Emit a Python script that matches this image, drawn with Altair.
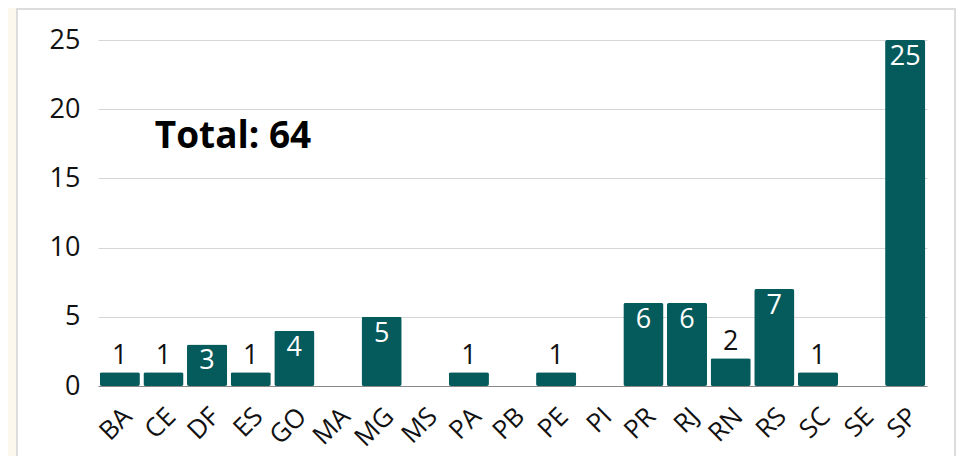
import altair as alt
import pandas as pd

states = ["BA", "CE", "DF", "ES", "GO", "MA", "MG", "MS", "PA", "PB", "PE", "PI",
          "PR", "RJ", "RN", "RS", "SC", "SE", "SP"]
counts = [1, 1, 3, 1, 4, 0, 5, 0, 1, 0, 1, 0, 6, 6, 2, 7, 1, 0, 25]
y_ticks = [0, 5, 10, 15, 20, 25]

df = pd.DataFrame({"state": states, "count": counts})
df["label"] = [str(c) if c > 0 else "" for c in counts]
total = sum(counts)

W, H = 829, 346
BAR = "#055a5b"
FONT = "Open Sans"

xenc = alt.X("state:N", sort=states, title=None,
             scale=alt.Scale(paddingInner=0.08, paddingOuter=0.04),
             axis=alt.Axis(labelAngle=-45, labelFontSize=26, labelColor="#111",
                           labelFont=FONT, ticks=False, labelPadding=26,
                           labelAlign="right", labelBaseline="middle", labelOffset=8,
                           domainColor="#888", domainWidth=1, grid=False))
yenc = alt.Y("count:Q", title=None,
             scale=alt.Scale(domain=[0, 25], nice=False),
             axis=alt.Axis(values=y_ticks, labelFontSize=27, labelColor="#111",
                           labelFont=FONT, ticks=False, labelPadding=18,
                           domain=False, gridColor="#d6d6d6", gridWidth=1))

base = alt.Chart(df)
one = pd.DataFrame({"a": [0]})

cream = alt.Chart(one).mark_rect(
    fill="white", fillOpacity=0, stroke="#fdf8ee", strokeWidth=16
).encode(x=alt.value(-90), x2=alt.value(900), y=alt.value(-48), y2=alt.value(H + 200))

frame = alt.Chart(one).mark_rect(
    fill="white", fillOpacity=0, stroke="#dcdcdc", strokeWidth=2
).encode(x=alt.value(-81), x2=alt.value(857), y=alt.value(-31), y2=alt.value(H + 200))

bars = base.mark_bar(color=BAR, cornerRadius=2).encode(x=xenc, y=yenc)

inside = base.transform_filter("datum.count >= 3").mark_text(
    baseline="top", dy=4, fontSize=27, color="white", font=FONT
).encode(x=alt.X("state:N", sort=states), y="count:Q", text="label:N")

above = base.transform_filter("datum.count > 0 && datum.count < 3").mark_text(
    baseline="alphabetic", dy=-8, fontSize=27, color="#111", font=FONT
).encode(x=alt.X("state:N", sort=states), y="count:Q", text="label:N")

total_txt = alt.Chart(pd.DataFrame({"t": [f"Total: {total}"]})).mark_text(
    fontSize=37, fontWeight="bold", font=FONT, color="#000",
    align="center", baseline="alphabetic"
).encode(x=alt.value(135), y=alt.value(108), text="t:N")

chart = alt.layer(bars, inside, above, total_txt, cream, frame).properties(
    width=W, height=H,
    autosize=alt.AutoSizeParams(type="none"),
    padding={"left": 90, "top": 32, "right": 29, "bottom": 70},
    background="white",
).configure_view(stroke=None)

chart.save("out.html", embed_options={"renderer": "svg", "actions": False})
